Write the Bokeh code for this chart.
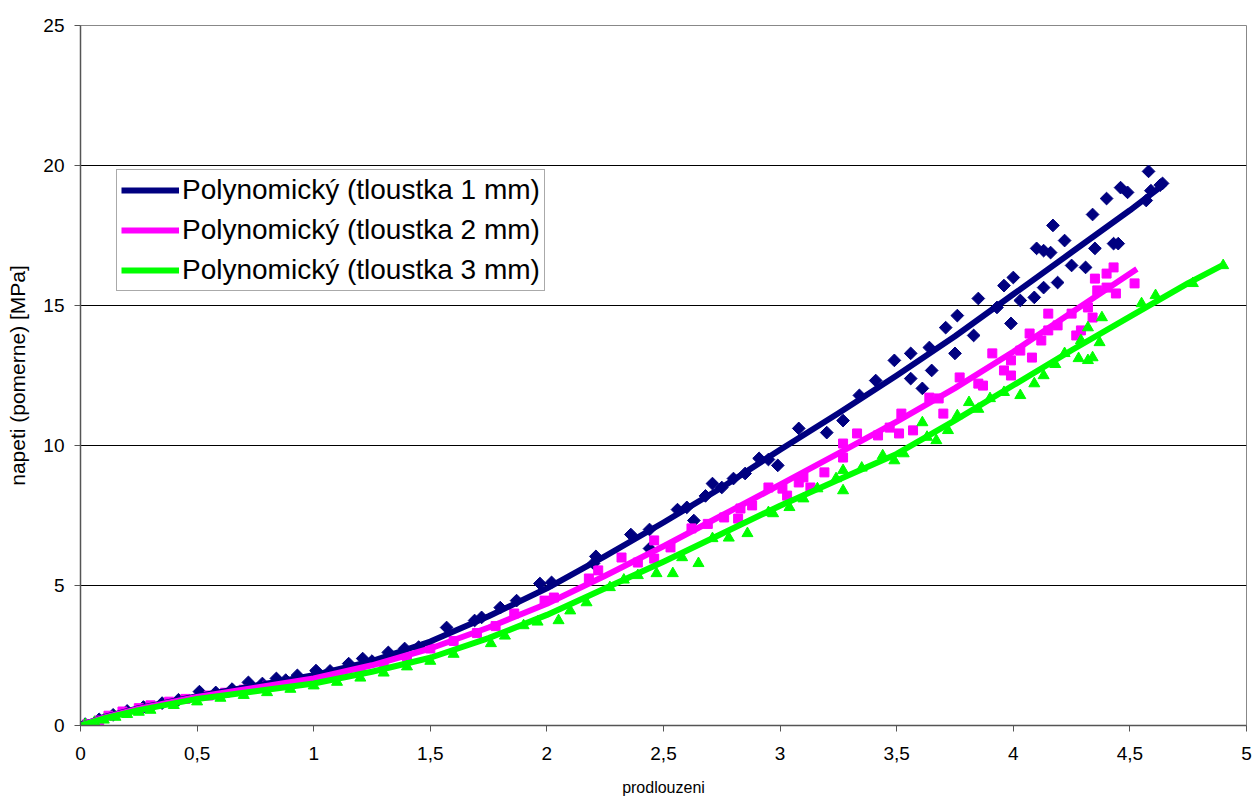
import math
from bokeh.plotting import figure
from bokeh.models import Range1d, FixedTicker, Legend, LegendItem
from bokeh.embed import file_html
from bokeh.resources import INLINE

# ---- data ----
x_ticks = [0, 0.5, 1, 1.5, 2, 2.5, 3, 3.5, 4, 4.5, 5]
x_tick_labels = ["0", "0,5", "1", "1,5", "2", "2,5", "3", "3,5", "4", "4,5", "5"]
y_ticks = [0, 5, 10, 15, 20, 25]

x_title = "prodlouzeni"
y_title = "napeti (pomerne) [MPa]"
legend_labels = ["Polynomický (tloustka 1 mm)",
                 "Polynomický (tloustka 2 mm)",
                 "Polynomický (tloustka 3 mm)"]

# measured points, thickness 1 mm
t1_x = [0.02, 0.08, 0.14, 0.2, 0.27, 0.35, 0.42, 0.51, 0.58, 0.65, 0.72, 0.78, 0.84, 0.88, 0.93,
        1.01, 1.07, 1.15, 1.21, 1.25, 1.32, 1.39, 1.45,
        1.57, 1.69, 1.72, 1.80, 1.87, 1.97, 2.02, 2.20, 2.21, 2.36, 2.44, 2.44, 2.56, 2.60, 2.63,
        2.68, 2.71, 2.75, 2.80, 2.85, 2.91, 2.95, 2.99, 3.08, 3.20, 3.27, 3.34, 3.41, 3.49, 3.56,
        3.56, 3.61, 3.65, 3.64, 3.71, 3.75, 3.76, 3.83, 3.85, 3.93, 3.96, 3.99, 4.00, 4.03, 4.09,
        4.10, 4.13, 4.13, 4.16, 4.17, 4.19, 4.22, 4.25, 4.31, 4.34, 4.35, 4.40, 4.43, 4.45, 4.46,
        4.49, 4.57, 4.58, 4.59, 4.63, 4.64]
t1_y = [0.05, 0.22, 0.38, 0.52, 0.66, 0.8, 0.92, 1.21, 1.18, 1.3, 1.54, 1.5, 1.68, 1.62, 1.79,
        1.96, 1.95, 2.21, 2.39, 2.3, 2.61, 2.75, 2.8,
        3.50, 3.75, 3.86, 4.21, 4.46, 5.07, 5.11, 5.79, 6.04, 6.82, 7.0, 6.32, 7.71, 7.79, 7.32,
        8.2, 8.64, 8.5, 8.82, 9.0, 9.54, 9.5, 9.29, 10.61, 10.46, 10.89, 11.79, 12.32, 13.04, 13.29,
        12.39, 12.04, 12.68, 13.5, 14.21, 13.29, 14.64, 13.93, 15.25, 14.93, 15.71, 14.36, 16.0, 15.18, 15.29,
        17.04, 16.96, 15.64, 16.89, 17.86, 15.82, 17.32, 16.43, 16.36, 18.25, 17.04, 18.82, 17.21, 17.21, 19.21,
        19.04, 18.75, 19.79, 19.1, 19.3, 19.36]

# measured points, thickness 2 mm
t2_x = [0.03, 0.08, 0.12, 0.18, 0.25, 0.3, 0.38, 0.45, 0.55, 0.62, 0.7, 0.8, 0.9, 1.0, 1.1, 1.2,
        1.3, 1.4, 1.5, 1.6, 1.7, 1.78,
        1.86, 1.99, 2.03, 2.18, 2.22, 2.32, 2.39, 2.46, 2.46, 2.53, 2.62, 2.69, 2.76, 2.82, 2.83,
        2.88, 2.95, 3.01, 3.03, 3.08, 3.10, 3.13, 3.19, 3.27, 3.27, 3.33, 3.42, 3.47, 3.51, 3.52,
        3.57, 3.64, 3.68, 3.70, 3.77, 3.85, 3.87, 3.91, 3.96, 3.99, 3.99, 4.03, 4.07, 4.08, 4.12,
        4.15, 4.15, 4.19, 4.25, 4.27, 4.29, 4.32, 4.34, 4.35, 4.36, 4.40, 4.40, 4.43, 4.44, 4.52]
t2_y = [0.05, 0.18, 0.35, 0.5, 0.62, 0.72, 0.85, 0.95, 1.07, 1.17, 1.28, 1.42, 1.55, 1.68, 1.88, 2.02,
        2.22, 2.45, 2.75, 3.02, 3.3, 3.55,
        4.0, 4.46, 4.57, 5.25, 5.54, 6.0, 5.82, 6.61, 5.96, 6.36, 7.04, 7.2, 7.43, 7.39, 7.75,
        7.86, 8.5, 8.46, 8.21, 8.68, 8.86, 8.5, 9.04, 9.57, 10.07, 10.43, 10.36, 10.64, 10.43, 11.14,
        10.54, 11.71, 11.68, 11.14, 12.43, 12.21, 12.14, 13.29, 12.68, 12.5, 13.04, 13.39, 14.0, 13.14, 13.75,
        14.71, 14.11, 14.29, 14.71, 13.93, 14.11, 14.93, 14.57, 15.96, 15.54, 16.14, 15.64, 16.36, 15.43, 15.79]

# measured points, thickness 3 mm
t3_x = [0.02, 0.06, 0.1, 0.15, 0.2, 0.25, 0.3, 0.4, 0.5, 0.6, 0.7, 0.8, 0.9, 1.0, 1.1, 1.2, 1.3,
        1.4, 1.5, 1.6, 1.76, 1.82, 1.90, 1.96, 2.05, 2.1, 2.17, 2.27, 2.33, 2.39, 2.47, 2.54, 2.58,
        2.65, 2.71, 2.78, 2.86, 2.95, 2.97, 3.04, 3.1, 3.16, 3.24, 3.27, 3.27, 3.35, 3.44, 3.49,
        3.53, 3.61, 3.63, 3.67, 3.72, 3.76, 3.81, 3.85, 3.90, 3.96, 4.03, 4.09, 4.13, 4.18, 4.22,
        4.28, 4.29, 4.32, 4.32, 4.34, 4.37, 4.38, 4.55, 4.61, 4.77, 4.90]
t3_y = [0.03, 0.12, 0.2, 0.3, 0.4, 0.48, 0.55, 0.72, 0.85, 0.98, 1.08, 1.18, 1.3, 1.42, 1.55, 1.7, 1.88,
        2.1, 2.3, 2.55, 2.93, 3.2, 3.57, 3.7, 3.75, 4.1, 4.39, 4.93, 5.2, 5.36, 5.43, 5.43, 6.0,
        5.79, 6.68, 6.7, 6.86, 7.61, 7.57, 7.79, 8.1, 8.46, 8.82, 8.39, 9.11, 9.2, 9.64, 9.46,
        9.71, 10.82, 10.3, 10.18, 10.54, 11.07, 11.54, 11.3, 11.68, 11.9, 11.79, 12.21, 12.5, 12.9, 13.29,
        13.11, 13.75, 13.04, 14.21, 13.14, 13.68, 14.57, 15.07, 15.36, 15.79, 16.43]

# polynomial trend lines
fit1_x = [0, 0.1, 0.25, 0.5, 0.75, 1, 1.25, 1.5, 1.75, 2, 2.25, 2.5, 2.75, 3, 3.25, 3.5, 3.75, 4, 4.25, 4.5, 4.65]
fit1_y = [0, 0.3, 0.62, 1.05, 1.42, 1.8, 2.3, 3.0, 3.9, 4.9, 6.05, 7.25, 8.5, 9.85, 11.15, 12.5, 13.9, 15.4, 16.9, 18.4, 19.35]
fit2_x = [0, 0.1, 0.25, 0.5, 0.75, 1, 1.25, 1.5, 1.75, 2, 2.25, 2.5, 2.75, 3, 3.25, 3.5, 3.75, 4, 4.25, 4.53]
fit2_y = [0, 0.28, 0.6, 1.02, 1.35, 1.68, 2.15, 2.75, 3.5, 4.35, 5.35, 6.4, 7.5, 8.6, 9.72, 10.85, 12.05, 13.35, 14.75, 16.3]
fit3_x = [0, 0.1, 0.25, 0.5, 0.75, 1, 1.25, 1.5, 1.75, 2, 2.25, 2.5, 2.75, 3, 3.25, 3.5, 3.75, 4, 4.25, 4.5, 4.75, 4.9]
fit3_y = [0, 0.25, 0.55, 0.95, 1.22, 1.5, 1.92, 2.42, 3.12, 3.95, 4.9, 5.85, 6.85, 7.85, 8.78, 9.7, 10.9, 12.15, 13.4, 14.6, 15.8, 16.45]

C1, C2, C3 = "#000080", "#FF00FF", "#00FF00"
FONT = "Liberation Sans"

p = figure(width=1256, height=804, output_backend="svg", toolbar_location=None,
           x_range=Range1d(0, 5), y_range=Range1d(0, 25),
           min_border_left=80, min_border_right=10, min_border_top=25, min_border_bottom=79,
           background_fill_color="white", border_fill_color="white")

p.outline_line_color = "#888888"
p.outline_line_width = 1

p.xgrid.visible = False
p.ygrid.ticker = FixedTicker(ticks=[5, 10, 15, 20])
p.ygrid.grid_line_color = "black"
p.ygrid.grid_line_width = 1

for ax in (p.xaxis[0], p.yaxis[0]):
    ax.axis_line_color = "#555555"
    ax.axis_line_width = 1.5
    ax.major_tick_line_color = "#555555"
    ax.major_tick_out = 6
    ax.major_tick_in = 0
    ax.minor_tick_out = 0
    ax.minor_tick_in = 0
    ax.major_label_text_font = FONT
    ax.major_label_text_font_size = "19px"
    ax.major_label_text_color = "black"
    ax.axis_label_text_font = FONT
    ax.axis_label_text_font_style = "normal"
    ax.axis_label_text_color = "black"

p.xaxis.ticker = FixedTicker(ticks=x_ticks)
p.xaxis.major_label_overrides = {t: l for t, l in zip(x_ticks, x_tick_labels)}
p.xaxis.major_label_standoff = 15
p.xaxis.axis_label = x_title
p.xaxis.axis_label_text_font_size = "16px"
p.xaxis.axis_label_standoff = 16

p.yaxis.ticker = FixedTicker(ticks=y_ticks)
p.yaxis.major_label_standoff = 10
p.yaxis.axis_label = y_title
p.yaxis.axis_label_text_font_size = "21px"
p.yaxis.axis_label_standoff = 11

# measured points
p.scatter(t1_x, t1_y, marker="square", size=9, angle=math.pi / 4, fill_color=C1, line_color=C1)
p.scatter(t2_x, t2_y, marker="square", size=9, fill_color=C2, line_color=C2)
p.scatter(t3_x, t3_y, marker="triangle", size=11, fill_color=C3, line_color=C3)

# trend lines
l1 = p.line(fit1_x, fit1_y, line_color=C1, line_width=6, line_join="round")
l2 = p.line(fit2_x, fit2_y, line_color=C2, line_width=6, line_join="round")
l3 = p.line(fit3_x, fit3_y, line_color=C3, line_width=6, line_join="round")

legend = Legend(items=[LegendItem(label=legend_labels[0], renderers=[l1]),
                       LegendItem(label=legend_labels[1], renderers=[l2]),
                       LegendItem(label=legend_labels[2], renderers=[l3])],
                location=(36, 434), orientation="vertical",
                glyph_width=58, glyph_height=30, label_height=30, label_standoff=3,
                spacing=8, padding=4, margin=0,
                label_text_font=FONT, label_text_font_size="28px", label_text_color="black",
                border_line_color="#555555", border_line_width=1,
                background_fill_color="white", background_fill_alpha=1.0)
p.add_layout(legend, "center")

open("out.html", "w").write(file_html(p, INLINE))
